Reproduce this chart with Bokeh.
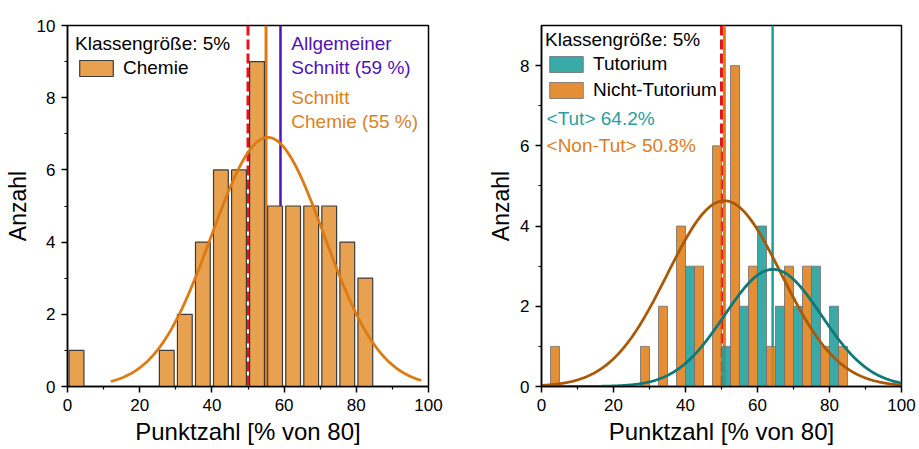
import numpy as np
from bokeh.plotting import figure
from bokeh.layouts import row
from bokeh.models import Span, Label, Legend, LegendItem, ColumnDataSource, FixedTicker
from bokeh.transform import dodge
from bokeh.embed import file_html
from bokeh.resources import INLINE

# ---------------- data ----------------
x_ticks = [0, 20, 40, 60, 80, 100]
x_minor = [10, 30, 50, 70, 90]

# left panel: Chemie histogram (bin width 5)
left_centers = [2.5, 7.5, 12.5, 17.5, 22.5, 27.5, 32.5, 37.5, 42.5, 47.5,
                52.5, 57.5, 62.5, 67.5, 72.5, 77.5, 82.5]
left_counts = [1, 0, 0, 0, 0, 1, 2, 4, 6, 6, 9, 5, 5, 5, 5, 4, 3]
left_y_ticks = [0, 2, 4, 6, 8, 10]
left_y_minor = [1, 3, 5, 7, 9]

pass_mark = 50          # Bestehensgrenze
mean_all = 59           # Allgemeiner Schnitt
mean_chem = 55          # Schnitt Chemie
# normal curve over Chemie histogram
chem_fit_mean, chem_fit_sigma, chem_fit_peak = 55.5, 15.6, 6.9
chem_fit_range = (12, 98)

# right panel: Tutorium vs Nicht-Tutorium (bin centers)
right_centers = [5, 10, 15, 20, 25, 30, 35, 40, 45, 50, 55, 60, 65, 70, 75, 80, 85]
nontut_counts = [1, 0, 0, 0, 0, 1, 2, 4, 3, 6, 8, 3, 1, 3, 3, 1, 1]
tut_counts = [0, 0, 0, 0, 0, 0, 0, 3, 0, 1, 2, 4, 2, 2, 3, 2, 0]
right_y_ticks = [0, 2, 4, 6, 8]
right_y_minor = [1, 3, 5, 7]

mean_tut = 64.2
mean_nontut = 50.8
tut_fit_mean, tut_fit_sigma, tut_fit_peak = 64.3, 13.5, 2.92
nontut_fit_mean, nontut_fit_sigma, nontut_fit_peak = 50.8, 15.8, 4.63

# ---------------- styles ----------------
FONT = "Liberation Sans"
RED = "#E4141E"
C_LEFT_BAR = "#E8A14F"
C_LEFT_CURVE = "#DD7A12"
C_PURPLE = "#5014B4"
C_TEAL = "#1E9E9C"
C_ORANGE = "#E07E1A"
C_TEAL_CURVE = "#117878"
C_ORANGE_CURVE = "#A85A08"


def make_fig(width, ymax, yticks, yminor, mbl, mbr):
    p = figure(width=width, height=449, x_range=(0, 100), y_range=(0, ymax),
               output_backend="svg", toolbar_location=None,
               min_border_left=mbl, min_border_right=mbr,
               min_border_top=25, min_border_bottom=63)
    p.xgrid.visible = False
    p.ygrid.visible = False
    p.background_fill_color = "white"
    p.border_fill_color = "white"
    p.outline_line_color = "black"
    p.outline_line_width = 1.5
    p.outline_line_alpha = 1.0
    p.xaxis.ticker = FixedTicker(ticks=x_ticks, minor_ticks=x_minor)
    p.yaxis.ticker = FixedTicker(ticks=yticks, minor_ticks=yminor)
    for ax in (p.xaxis, p.yaxis):
        ax.axis_line_width = 1.5
        ax.axis_line_color = "black"
        ax.major_tick_out = 6
        ax.major_tick_in = 0
        ax.minor_tick_out = 3
        ax.minor_tick_in = 0
        ax.major_tick_line_width = 1.5
        ax.minor_tick_line_width = 1.2
        ax.major_tick_line_color = "black"
        ax.minor_tick_line_color = "black"
        ax.major_label_text_font = FONT
        ax.major_label_text_font_size = "17px"
        ax.major_label_text_color = "black"
        ax.axis_label_text_font = FONT
        ax.axis_label_text_font_style = "normal"
        ax.axis_label_text_color = "black"
    p.xaxis.axis_label_text_font_size = "24px"
    p.yaxis.axis_label_text_font_size = "23px"
    p.xaxis.axis_label = "Punktzahl [% von 80]"
    p.yaxis.axis_label = "Anzahl"
    p.xaxis.major_label_standoff = 6
    p.yaxis.major_label_standoff = 6
    p.xaxis.axis_label_standoff = 4
    p.yaxis.axis_label_standoff = 3
    return p


def gauss(xs, mu, sigma, peak):
    return peak * np.exp(-(xs - mu) ** 2 / (2 * sigma ** 2))


def vline(p, xv, col, w, dash):
    p.add_layout(Span(location=xv, dimension="height", line_color=col,
                      line_width=w, line_dash=dash, level="underlay"))


# ---------------- left panel ----------------
p1 = make_fig(470, 10, left_y_ticks, left_y_minor, 67, 42)

vline(p1, pass_mark, RED, 3, "10 4")
vline(p1, mean_chem, C_LEFT_CURVE, 3, "solid")
vline(p1, mean_all, C_PURPLE, 2.5, "solid")

lsrc = ColumnDataSource(dict(x=[c for c, n in zip(left_centers, left_counts) if n > 0],
                             top=[n for n in left_counts if n > 0]))
bar1 = p1.vbar(x="x", top="top", width=4.1, source=lsrc, fill_color=C_LEFT_BAR,
               line_color="#3C3C3C", line_width=1.2)

xs1 = np.linspace(chem_fit_range[0], chem_fit_range[1], 300)
p1.line(xs1, gauss(xs1, chem_fit_mean, chem_fit_sigma, chem_fit_peak),
        line_color=C_LEFT_CURVE, line_width=2.8)

leg1 = Legend(items=[LegendItem(label="Chemie", renderers=[bar1])],
              location="top_left", title="Klassengröße: 5%")
p1.add_layout(leg1)

p1.add_layout(Label(x=pass_mark, y=10, x_offset=5, y_offset=3, text="Bestehensgrenze",
                    text_align="center", text_baseline="bottom", text_color=RED,
                    text_font=FONT, text_font_size="19px"))
for txt, yv, col in [("Allgemeiner", 9.51, C_PURPLE), ("Schnitt (59 %)", 8.84, C_PURPLE),
                     ("Schnitt", 8.01, "#D9831F"), ("Chemie (55 %)", 7.35, "#D9831F")]:
    p1.add_layout(Label(x=62, y=yv, text=txt, text_align="left", text_baseline="middle",
                        text_color=col, text_font=FONT, text_font_size="19px"))

# ---------------- right panel ----------------
p2 = make_fig(449, 9, right_y_ticks, right_y_minor, 71, 18)

vline(p2, pass_mark, RED, 3, "10 4")
vline(p2, mean_nontut, C_ORANGE, 3, "solid")
vline(p2, mean_tut, C_TEAL, 2.5, "solid")

rsrc = ColumnDataSource(dict(x=right_centers, nontut=nontut_counts, tut=tut_counts))
bar_tut = p2.vbar(x=dodge("x", 1.25, range=p2.x_range), top="tut", width=2.5, source=rsrc,
                  fill_color=C_TEAL, fill_alpha=0.88, line_color="#6E6E6E", line_width=0.8)
bar_nt = p2.vbar(x=dodge("x", -1.25, range=p2.x_range), top="nontut", width=2.5, source=rsrc,
                 fill_color=C_ORANGE, fill_alpha=0.88, line_color="#6E6E6E", line_width=0.8)

xs2 = np.linspace(0, 100, 400)
p2.line(xs2, gauss(xs2, nontut_fit_mean, nontut_fit_sigma, nontut_fit_peak),
        line_color=C_ORANGE_CURVE, line_width=2.8)
p2.line(xs2, gauss(xs2, tut_fit_mean, tut_fit_sigma, tut_fit_peak),
        line_color=C_TEAL_CURVE, line_width=2.8)

leg2 = Legend(items=[LegendItem(label="Tutorium", renderers=[bar_tut]),
                     LegendItem(label="Nicht-Tutorium", renderers=[bar_nt])],
              location="top_left", title="Klassengröße: 5%")
p2.add_layout(leg2)

p2.add_layout(Label(x=pass_mark, y=9, x_offset=2, y_offset=3, text="Bestehensgrenze",
                    text_align="center", text_baseline="bottom", text_color=RED,
                    text_font=FONT, text_font_size="19px"))
p2.add_layout(Label(x=1.4, y=6.69, text="<Tut> 64.2%", text_align="left",
                    text_baseline="middle", text_color="#2AA0A0", text_font=FONT,
                    text_font_size="19px"))
p2.add_layout(Label(x=1.4, y=6.0, text="<Non-Tut> 50.8%", text_align="left",
                    text_baseline="middle", text_color="#D9801E", text_font=FONT,
                    text_font_size="19px"))

for leg, mg in ((leg1, 8), (leg2, 4)):
    leg.title_text_font = FONT
    leg.title_text_font_size = "19px"
    leg.title_text_font_style = "normal"
    leg.title_text_color = "black"
    leg.title_standoff = 2
    leg.label_text_font = FONT
    leg.label_text_font_size = "19px"
    leg.label_text_color = "black"
    leg.glyph_width = 42
    leg.glyph_height = 20
    leg.label_height = 20
    leg.label_standoff = 6
    leg.spacing = 4
    leg.padding = 2
    leg.margin = mg
    leg.border_line_color = None
    leg.background_fill_alpha = 0

layout = row(p1, p2)
open("out.html", "w").write(file_html(layout, INLINE))
